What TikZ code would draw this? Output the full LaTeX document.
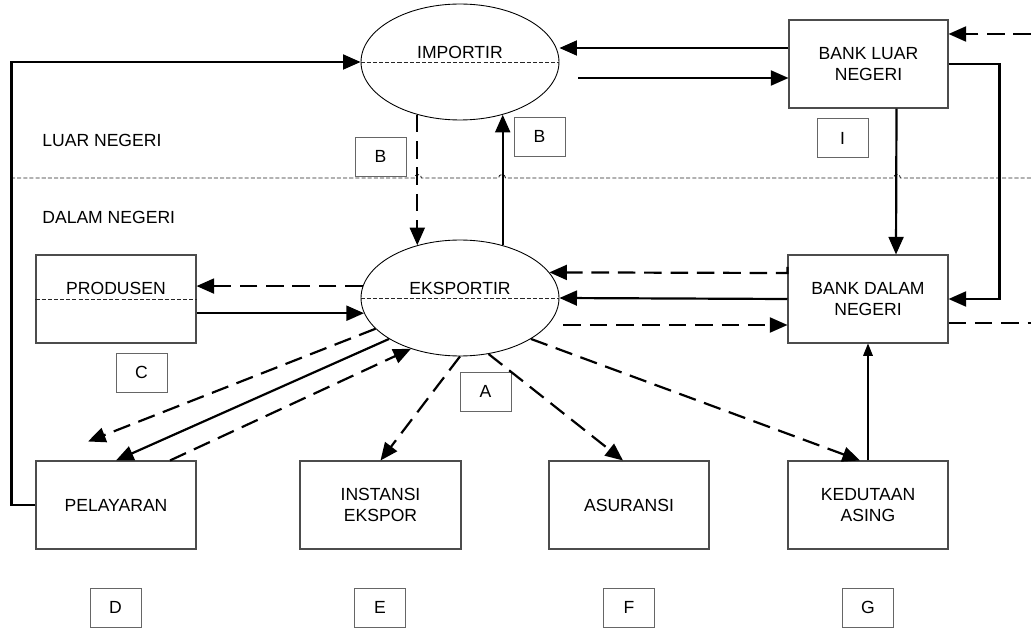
\documentclass[tikz,border=0pt]{standalone}
\usepackage{fontspec}
\setmainfont{Liberation Sans}
\usetikzlibrary{arrows.meta,shapes.geometric,calc}
\newcommand{\diagfont}{\fontsize{10}{11.5}\selectfont}
\begin{document}
\begin{tikzpicture}[x=0.02cm,y=-0.02cm,
  box/.style={draw=black!70,line width=0.6pt,minimum width=3.2cm,minimum height=1.76cm,
              align=center,font=\diagfont,inner sep=0pt},
  actor/.style={ellipse,draw,line width=0.5pt,minimum width=3.96cm,minimum height=2.32cm,inner sep=0pt},
  tag/.style={draw=black!60,line width=0.5pt,minimum width=1.02cm,minimum height=0.78cm,
              font=\diagfont,inner sep=0pt},
  txt/.style={font=\diagfont,inner sep=0pt},
  arr/.style={-{Triangle[length=10pt,width=8.5pt]},line width=1.25pt},
  dasharr/.style={arr,dash pattern=on 10pt off 5pt},
  dashln/.style={line width=1.25pt,dash pattern=on 10pt off 5pt},
  thinarr/.style={-{Triangle[length=7pt,width=5.5pt]},line width=0.6pt},
  divline/.style={draw=black!85,line width=0.5pt,dash pattern=on 2.3pt off 1.2pt}]
\useasboundingbox (0,0) rectangle (1031,628);
\node[actor] (imp) at (460,62) {};
\node[actor] (eks) at (460,298) {};
\node[txt] (impT) at (460,52) {IMPORTIR};
\node[txt] (eksT) at (460,288) {EKSPORTIR};
\node[box,minimum width=3.18cm] (bln) at (868.5,64) {BANK LUAR\\NEGERI};
\node[box] (bdn) at (868,299) {BANK DALAM\\NEGERI};
\node[box] (prod) at (116,299) {};
\node[txt] (prodT) at (116,288) {PRODUSEN};
\node[box] (pel) at (116,505) {PELAYARAN};
\node[box,minimum width=3.22cm] (ins) at (380.5,505) {INSTANSI\\EKSPOR};
\node[box] (asu) at (629,505) {ASURANSI};
\node[box] (ked) at (868,505) {KEDUTAAN\\ASING};
\node[txt,anchor=west] (luar) at (42,140) {LUAR NEGERI};
\node[txt,anchor=west] (dalam) at (42,217) {DALAM NEGERI};
\node[tag] (tB1) at (380.5,156.5) {B};
\node[tag] (tB2) at (539.5,136.5) {B};
\node[tag] (tI) at (842.5,138) {I};
\node[tag] (tC) at (141.5,372.5) {C};
\node[tag] (tA) at (485.5,391.5) {A};
\node[tag] (tD) at (115.5,607.5) {D};
\node[tag] (tE) at (380,607.5) {E};
\node[tag] (tF) at (629,607.5) {F};
\node[tag] (tG) at (868,607.5) {G};
\draw[divline] (imp.west) -- (imp.east);
\draw[divline] (eks.west) -- (eks.east);
\draw[divline] (prod.west) -- (prod.east);
\draw[divline] (11,178) -- (414.5,178) arc[start angle=180,end angle=0,radius=2pt]
  -- (498.5,178) arc[start angle=180,end angle=0,radius=2pt]
  -- (893.5,178) arc[start angle=180,end angle=0,radius=2pt] -- (1031,178);
\coordinate (a1) at ($(bln.west)+(0,-16)$);
\coordinate (a2) at ($(bln.west)+(0,14)$);
\coordinate (a8) at ($(bdn.west)+(0,26)$);
\coordinate (edgeA) at (1031,34);
\coordinate (edgeB) at (1031,323);
\coordinate (pelTip) at ($(pel.north)+(-28,-19)$);
\draw[arr] (a1) -- (a1 -| imp.east);
\draw[arr] ($(a2 -| imp.east)+(19,0)$) -- (a2);
\draw[dasharr] (edgeA) -- (edgeA -| bln.east);
\draw[arr] (bln.east) -- ++(51,0) |- (bdn.east);
\draw[arr] ($(bln.south)+(28,0)$) -- ($(bdn.north)+(28,0)$);
\draw[arr] (bdn.west) -- (eks.east);
\draw[dasharr] ($(bdn.west)+(0,-32)$) -- ($(bdn.west)+(0,-26)$) -- (eks.16);
\draw[dasharr] ($(a8 -| eks.east)+(4,0)$) -- (a8);
\draw[dashln] (bdn.east |- edgeB) -- (edgeB);
\draw[thinarr] (ked.north) -- (bdn.south);
\draw[dasharr] (eks.173) -- (eks.173 -| prod.east);
\draw[arr] (prod.east |- eks.189) -- (eks.189);
\draw[dasharr] (eks.200) -- (pelTip);
\draw[arr] (eks.210) -- (pel.north);
\draw[dasharr] ($(pel.north)+(54,0)$) -- (eks.226);
\draw[dasharr] (eks.south) -- (ins.north);
\draw[dasharr] (eks.297) -- ($(asu.north)+(-6,0)$);
\draw[dasharr] (eks.330) -- ($(ked.north)+(-8,0)$);
\draw[arr] (eks.51) -- (eks.51 |- imp.309);
\draw[dasharr] (imp.231) -- (imp.231 |- eks.129);
\draw[arr] (pel.west) -- ++(-24,0) |- (imp.west);
\end{tikzpicture}
\end{document}
